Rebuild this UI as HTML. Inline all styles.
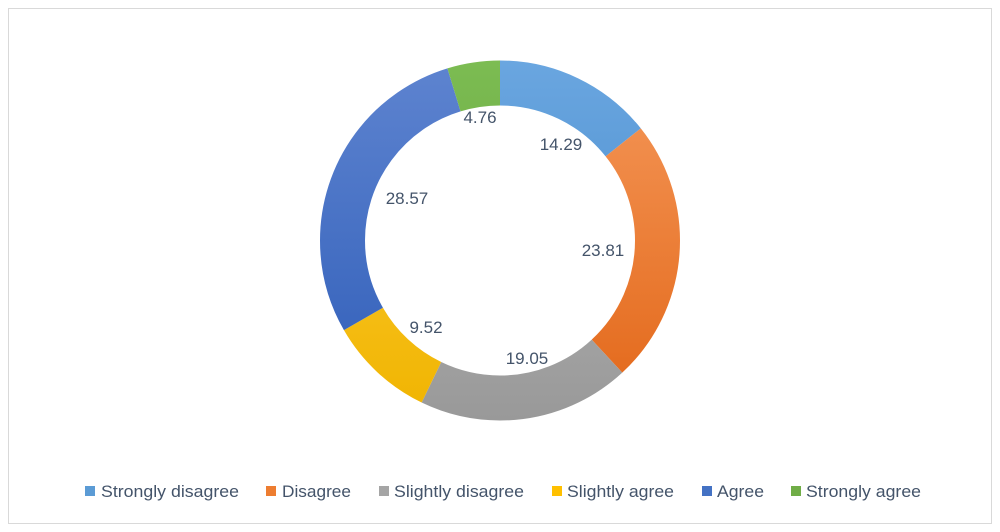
<!DOCTYPE html>
<html><head><meta charset="utf-8"><style>
html,body{margin:0;padding:0;background:#fff;}
svg{display:block;}
text{font-family:"Liberation Sans",sans-serif;fill:#44546A;}
</style></head><body>
<svg width="1000" height="532" viewBox="0 0 1000 532">
<defs>
<linearGradient id="g1" gradientUnits="userSpaceOnUse" x1="680.5" y1="0" x2="320.5" y2="0"><stop offset="0" stop-color="#6AA6E0"/><stop offset="1" stop-color="#3F85C6"/></linearGradient>
<linearGradient id="g2" gradientUnits="userSpaceOnUse" x1="680.5" y1="0" x2="320.5" y2="0"><stop offset="0" stop-color="#F5985A"/><stop offset="1" stop-color="#E26617"/></linearGradient>
<linearGradient id="g3" gradientUnits="userSpaceOnUse" x1="680.5" y1="0" x2="320.5" y2="0"><stop offset="0" stop-color="#BDBDBD"/><stop offset="1" stop-color="#999"/></linearGradient>
<linearGradient id="g4" gradientUnits="userSpaceOnUse" x1="680.5" y1="0" x2="320.5" y2="0"><stop offset="0" stop-color="#FFD040"/><stop offset="1" stop-color="#F0B400"/></linearGradient>
<linearGradient id="g5" gradientUnits="userSpaceOnUse" x1="680.5" y1="0" x2="320.5" y2="0"><stop offset="0" stop-color="#5E84D0"/><stop offset="1" stop-color="#2F5DB8"/></linearGradient>
<linearGradient id="g6" gradientUnits="userSpaceOnUse" x1="680.5" y1="0" x2="320.5" y2="0"><stop offset="0" stop-color="#7CBC52"/><stop offset="1" stop-color="#5E9A38"/></linearGradient>
</defs>
<rect x="8.5" y="8.5" width="983" height="515" fill="#fff" stroke="#D9D9D9"/>
<g transform="rotate(-90 500 240.5)" fill="none" stroke-width="45">
<circle cx="500" cy="240.5" r="157.5" stroke="url(#g1)" stroke-dasharray="141.41 989.6" stroke-dashoffset="0"/>
<circle cx="500" cy="240.5" r="157.5" stroke="url(#g2)" stroke-dasharray="235.62 989.6" stroke-dashoffset="-141.41"/>
<circle cx="500" cy="240.5" r="157.5" stroke="url(#g3)" stroke-dasharray="188.52 989.6" stroke-dashoffset="-377.03"/>
<circle cx="500" cy="240.5" r="157.5" stroke="url(#g4)" stroke-dasharray="94.21 989.6" stroke-dashoffset="-565.55"/>
<circle cx="500" cy="240.5" r="157.5" stroke="url(#g5)" stroke-dasharray="282.73 989.6" stroke-dashoffset="-659.76"/>
<circle cx="500" cy="240.5" r="157.5" stroke="url(#g6)" stroke-dasharray="47.10 989.6" stroke-dashoffset="-942.49"/>
</g>
<g font-size="17">
<text x="561" y="150" text-anchor="middle">14.29</text>
<text x="603" y="256" text-anchor="middle">23.81</text>
<text x="527" y="364" text-anchor="middle">19.05</text>
<text x="426" y="333" text-anchor="middle">9.52</text>
<text x="407" y="204" text-anchor="middle">28.57</text>
<text x="480" y="123" text-anchor="middle">4.76</text>
</g>
<g font-size="17">
<rect x="85" y="486" width="10" height="10" fill="#5B9BD5"/><text x="101" y="497" textLength="138" lengthAdjust="spacingAndGlyphs">Strongly disagree</text>
<rect x="266" y="486" width="10" height="10" fill="#ED7D31"/><text x="282" y="497" textLength="69" lengthAdjust="spacingAndGlyphs">Disagree</text>
<rect x="379" y="486" width="10" height="10" fill="#A5A5A5"/><text x="394" y="497" textLength="130" lengthAdjust="spacingAndGlyphs">Slightly disagree</text>
<rect x="552" y="486" width="10" height="10" fill="#FFC000"/><text x="567" y="497" textLength="107" lengthAdjust="spacingAndGlyphs">Slightly agree</text>
<rect x="702" y="486" width="10" height="10" fill="#4472C4"/><text x="717" y="497" textLength="47" lengthAdjust="spacingAndGlyphs">Agree</text>
<rect x="791" y="486" width="10" height="10" fill="#70AD47"/><text x="806" y="497" textLength="115" lengthAdjust="spacingAndGlyphs">Strongly agree</text>
</g>
</svg>
</body></html>
